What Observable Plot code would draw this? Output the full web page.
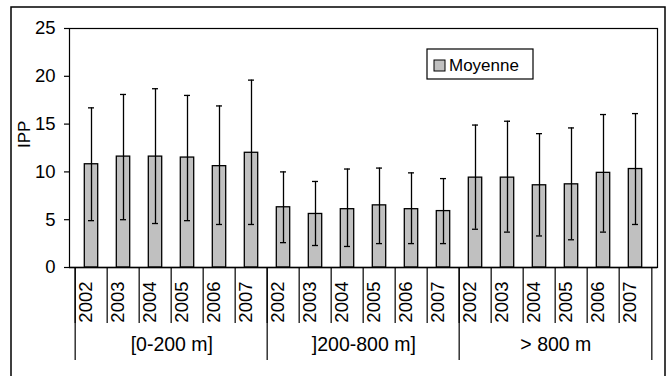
<!DOCTYPE html>
<html>
<head>
<meta charset="utf-8">
<script src="https://cdn.jsdelivr.net/npm/d3@7"></script>
<script src="https://cdn.jsdelivr.net/npm/@observablehq/plot@0.6"></script>
<style>
  html, body { margin: 0; padding: 0; background: #fff; }
  #chart svg { display: block; }
</style>
</head>
<body>
<div id="chart"></div>
<script>
const groups = ["[0-200 m]", "]200-800 m]", "> 800 m"];
const years = ["2002", "2003", "2004", "2005", "2006", "2007"];
const moyenne = [10.8, 11.6, 11.6, 11.5, 10.6, 12.0,  6.3, 5.6, 6.1, 6.5, 6.1, 5.9,  9.4, 9.4, 8.6, 8.7, 9.9, 10.3];
const upper   = [16.7, 18.1, 18.7, 18.0, 16.9, 19.6, 10.0, 9.0, 10.3, 10.4, 9.9, 9.3, 14.9, 15.3, 14.0, 14.6, 16.0, 16.1];
const lower   = [ 4.9,  5.0,  4.6,  4.9,  4.5,  4.5,  2.6, 2.3, 2.2, 2.5, 2.5, 2.5,  4.0, 3.7, 3.3, 2.9, 3.7, 4.5];
const yTicks = [0, 5, 10, 15, 20, 25];
const legendLabel = "Moyenne";
const yLabel = "IPP";

const rows = [];
groups.forEach((g, gi) => years.forEach((yr, yi) => {
  const i = gi * years.length + yi;
  rows.push({key: g + "|" + yr, group: g, year: yr, mean: moyenne[i], hi: upper[i], lo: lower[i]});
}));
const keys = rows.map(d => d.key);
const firstKeys = groups.map(g => g + "|" + years[0]);
const midKeys = groups.map(g => ({key: g + "|" + years[2], name: g}));
const lastKey = keys[keys.length - 1];

const W = 670, H = 376, mL = 69, mR = 13, mT = 28, mB = 109;
const bw = (W - mL - mR) / keys.length;
const frameH = H - mT - mB;
const font = "'Liberation Sans', Arial, sans-serif";

const chart = Plot.plot({
  width: W, height: H,
  marginLeft: mL, marginRight: mR, marginTop: mT, marginBottom: mB,
  style: {fontFamily: font, fontSize: "18px", color: "black", background: "white"},
  x: {type: "band", domain: keys, padding: 0, axis: null},
  y: {domain: [0, 25]},
  marks: [
    Plot.frame({stroke: "black", strokeWidth: 1.2}),
    Plot.barY(rows, {x: "key", y: "mean", fill: "#C0C0C0", stroke: "black", strokeWidth: 1.3, insetLeft: 9.3, insetRight: 9.3}),
    Plot.ruleX(rows, {x: "key", y1: "lo", y2: "hi", stroke: "black", strokeWidth: 1.3}),
    Plot.tickY(rows, {x: "key", y: "hi", stroke: "black", strokeWidth: 1.3, insetLeft: 13, insetRight: 13}),
    Plot.tickY(rows, {x: "key", y: "lo", stroke: "black", strokeWidth: 1.3, insetLeft: 13, insetRight: 13}),
    Plot.ruleY([0], {stroke: "black", strokeWidth: 1.6}),
    Plot.axisY({ticks: yTicks, tickSize: 5, tickPadding: 9, label: null, fontSize: 18.5, strokeWidth: 1.2}),
    // category separators
    Plot.ruleX(rows, {x: "key", dx: -bw / 2, insetTop: frameH, insetBottom: -56, stroke: "black", strokeWidth: 1.2}),
    Plot.ruleX(firstKeys, {x: d => d, dx: -bw / 2, insetTop: frameH, insetBottom: -93, stroke: "black", strokeWidth: 1.2}),
    Plot.ruleX([lastKey], {x: d => d, dx: bw / 2, insetTop: frameH, insetBottom: -93, stroke: "black", strokeWidth: 1.2}),
    // year labels
    Plot.text(rows, {x: "key", text: "year", frameAnchor: "bottom", dy: 14, rotate: -90, textAnchor: "end", fontSize: 18.5, fill: "black"}),
    // group labels
    Plot.text(midKeys, {x: "key", text: "name", dx: bw / 2, frameAnchor: "bottom", dy: 83, fontSize: 19.5, fill: "black"}),
    // y label
    Plot.text([yLabel], {text: d => d, frameAnchor: "left", dx: -45, rotate: -90, fontSize: 17, fill: "black"})
  ]
});

const svg = d3.select(chart);
// outer chart-area border
svg.insert("rect", ":first-child")
  .attr("x", 11).attr("y", 7).attr("width", 654).attr("height", 400)
  .attr("fill", "none").attr("stroke", "black").attr("stroke-width", 1.5);
// legend
const lg = svg.append("g").attr("text-anchor", "start");
lg.append("rect").attr("x", 427).attr("y", 49).attr("width", 106).attr("height", 30)
  .attr("fill", "white").attr("stroke", "black").attr("stroke-width", 1.2);
lg.append("rect").attr("x", 434).attr("y", 60).attr("width", 11).attr("height", 11)
  .attr("fill", "#C0C0C0").attr("stroke", "black").attr("stroke-width", 1);
lg.append("text").attr("x", 449).attr("y", 70.5).attr("font-size", 17)
  .attr("text-anchor", "start")
  .attr("font-family", font).attr("fill", "black").text(legendLabel);

document.getElementById("chart").appendChild(chart);
</script>
</body>
</html>
